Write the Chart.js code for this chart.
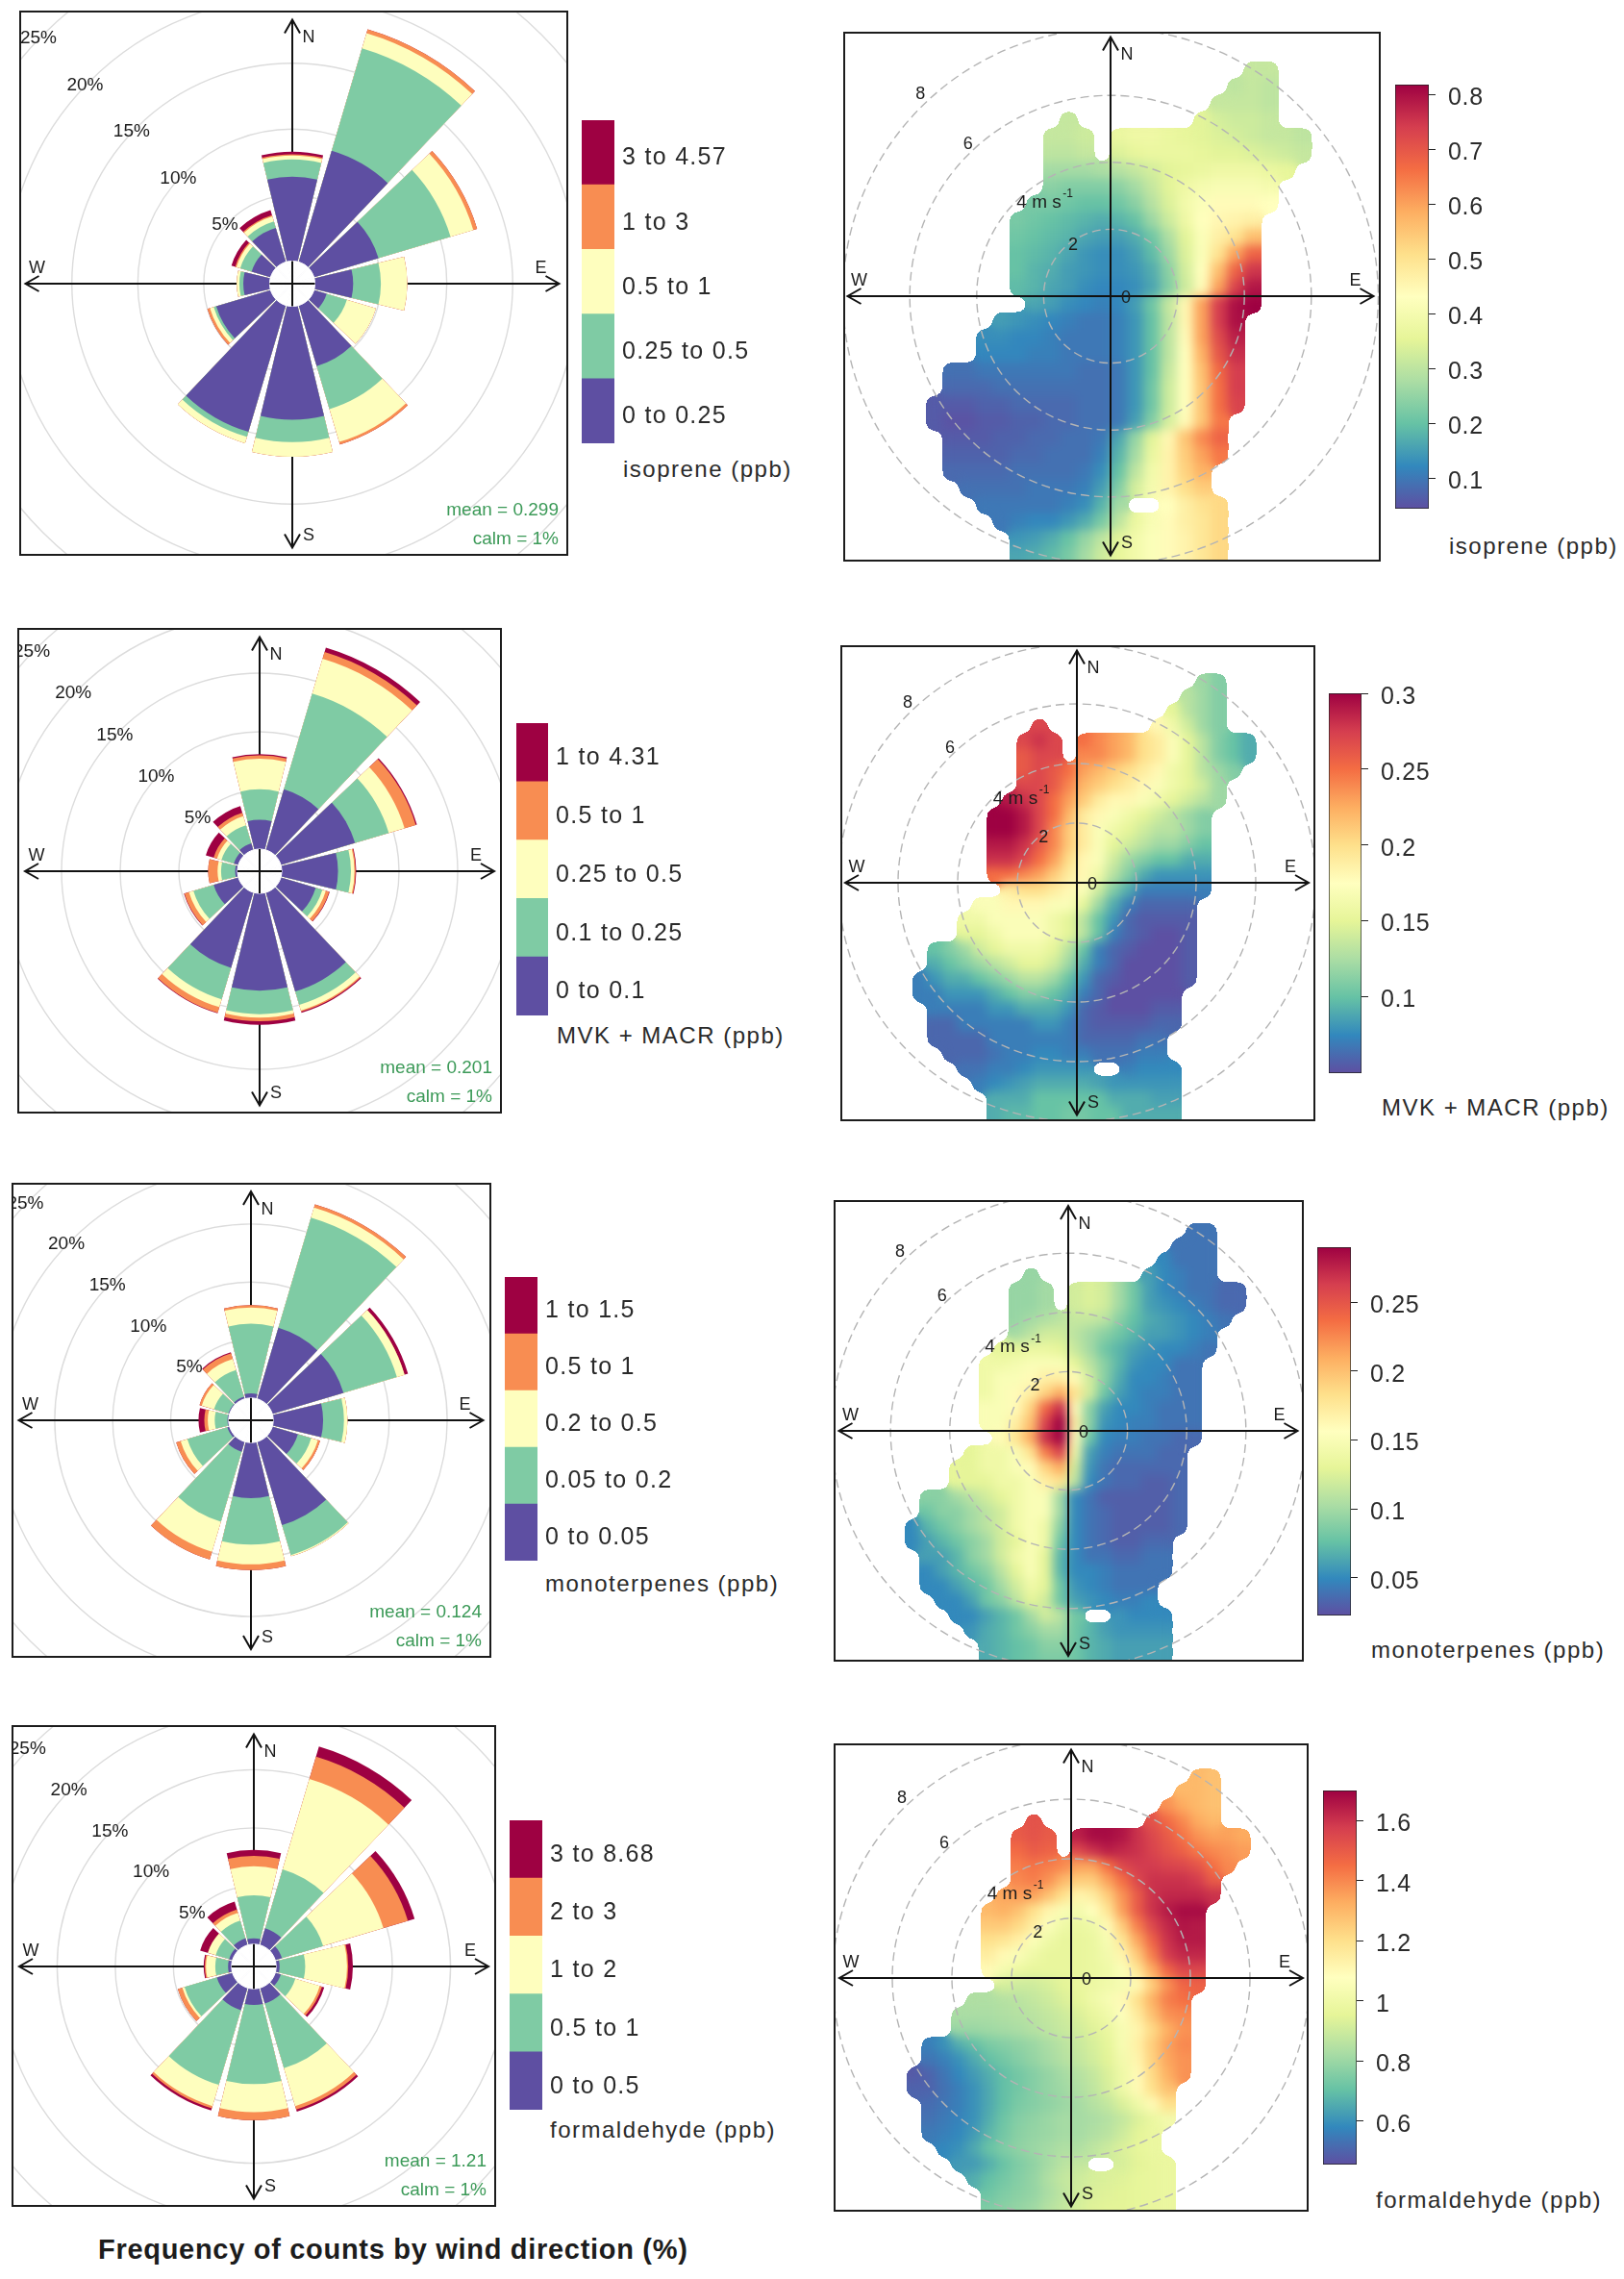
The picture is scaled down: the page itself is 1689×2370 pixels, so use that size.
<!DOCTYPE html>
<html lang="en">
<head>
<meta charset="UTF-8">
<title>Wind roses and bivariate polar plots of VOCs</title>
<script src="https://cdn.jsdelivr.net/npm/chart.js"></script>
<style>
  html, body { margin: 0; background: #fff; }
  #page { position: relative; width: 1689px; height: 2370px; overflow: hidden; }
  .frame { position: absolute; box-sizing: border-box; border: 2px solid #1c1c1c; overflow: hidden; }
  .frame canvas, .key { position: absolute; }
  .label { position: absolute; white-space: nowrap; transform: translateY(-50%); color: #2a2a2a;
           font: 24px "Liberation Sans", Arial, sans-serif; letter-spacing: 1.5px; }
  #caption { font: bold 29px "Liberation Sans", Arial, sans-serif; letter-spacing: 0.7px; color: #1c1c1c; }
</style>
</head>
<body>
<div id="page"></div>
<script>
// wind sectors, clockwise from north
const sectorLabels = ['N', '30', '60', 'E', '120', '150', 'S', '210', '240', 'W', '300', '330'];
const freqRings = [5, 10, 15, 20, 25];
const speedRings = [2, 4, 6, 8];

// frequency (%) in each concentration band, one row per sector, lowest band first
const isopreneBandNames = ['3 to 4.57', '1 to 3', '0.5 to 1', '0.25 to 0.5', '0 to 0.25'];
const isopreneRose = [
  [6.4, 1.3, 0.3, 0.1, 0.2], [8.8, 8.1, 1.2, 0.3, 0], [5.1, 5.7, 1.8, 0.3, 0], [2.9, 2.1, 2.0, 0, 0],
  [1.0, 1.6, 2.3, 0, 0], [4.8, 3.4, 2.6, 0.2, 0], [8.6, 1.7, 1.1, 0, 0], [10.0, 0.4, 0.5, 0, 0],
  [4.3, 0.2, 0.3, 0.2, 0], [2.0, 0.3, 0.2, 0, 0], [1.5, 0.9, 0.3, 0.1, 0.3], [2.7, 0.5, 0.4, 0.1, 0.4]
];
const mvkBandNames = ['1 to 4.31', '0.5 to 1', '0.25 to 0.5', '0.1 to 0.25', '0 to 0.1'];
const mvkRose = [
  [2.5, 2.6, 2.6, 0.3, 0.1], [5.4, 8.5, 3.1, 0.6, 0.4], [6.6, 3.0, 1.4, 1.0, 0.1], [4.8, 1.1, 0.3, 0.1, 0.05],
  [3.1, 0.6, 0.3, 0.3, 0.05], [8.8, 1.2, 0.5, 0.1, 0.1], [8.3, 2.0, 0.3, 0.3, 0.3], [6.7, 2.8, 0.7, 0.5, 0.05],
  [2.2, 1.8, 0.4, 0.4, 0.05], [0.2, 1.2, 0.3, 0.8, 0], [0.4, 1.1, 0.4, 0.3, 0.7], [0.6, 1.6, 0.8, 0.3, 0.6]
];
const monoBandNames = ['1 to 1.5', '0.5 to 1', '0.2 to 0.5', '0.05 to 0.2', '0 to 0.05'];
const monoRose = [
  [0.4, 6.0, 1.4, 0.2, 0], [6.4, 9.9, 0.9, 0.3, 0], [6.4, 4.8, 0.7, 0, 0.3], [4.3, 1.8, 0.3, 0, 0],
  [2.3, 1.2, 0.6, 0.2, 0], [7.5, 2.7, 0.1, 0, 0], [4.8, 4.0, 1.7, 0.5, 0], [0.9, 6.3, 2.7, 0.7, 0],
  [0.2, 3.6, 0.6, 0.4, 0], [0.1, 1.1, 0.6, 0.3, 0.5], [0.1, 1.3, 1.1, 0.2, 0], [0.2, 2.4, 1.0, 0.5, 0.1]
];
const hchoBandNames = ['3 to 8.68', '2 to 3', '1 to 2', '0.5 to 1', '0 to 0.5'];
const hchoRose = [
  [0.5, 3.7, 2.5, 0.9, 0.5], [1.5, 5.3, 8.1, 2.0, 0.9], [0.6, 3.7, 5.4, 2.2, 0.6], [0.3, 2.2, 3.6, 0.1, 0.4],
  [0.5, 1.3, 2.2, 0.2, 0.2], [1.4, 5.8, 3.4, 0.3, 0.2], [1.4, 6.8, 2.4, 0.7, 0], [2.0, 6.7, 1.9, 0.2, 0.2],
  [1.4, 2.9, 0.2, 0.4, 0], [0.3, 1.1, 0.8, 0.1, 0.1], [0.3, 1.2, 0.7, 0, 0.7], [0.6, 1.6, 0.7, 0.3, 0.7]
];

// polar plot cells: wind v component of each row and u component of the first cell in it (m/s)
const cellRowV = [6.75, 6.25, 5.75, 5.25, 4.75, 4.25, 3.75, 3.25, 2.75, 2.25, 1.75, 1.25, 0.75, 0.25, -0.25,
  -0.75, -1.25, -1.75, -2.25, -2.75, -3.25, -3.75, -4.25, -4.75, -5.25, -5.75, -6.25, -6.75, -7.25, -7.75];
const cellRowStartU = [4.25, 3.75, 3.25, -1.25, -1.75, -1.75, -1.75, -1.75, -2.25, -2.75, -2.75, -2.75, -2.75, -2.75, -2.25,
  -3.25, -3.75, -3.75, -4.75, -4.75, -5.25, -5.25, -4.75, -4.75, -4.75, -4.25, -3.75, -3.25, -2.75, -2.75];
const _ = null;

const isopreneCells = [
  [.31,.31],
  [.3,.31,.3],
  [.31,.31,.31,.3],
  [.31,_,_,_,_,_,_,_,.35,.33,.32,.32,.31],
  [.31,.31,.32,_,.37,.38,.38,.37,.36,.35,.34,.33,.32,.31,.31,.3],
  [.3,.3,.31,_,.34,.36,.37,.37,.37,.36,.35,.35,.34,.33,.32,.31],
  [.27,.27,.27,.28,.29,.31,.33,.35,.36,.37,.38,.38,.38,.37,.36],
  [.24,.23,.23,.23,.24,.27,.31,.35,.38,.4,.41,.41,.41,.4],
  [.22,.22,.21,.2,.2,.21,.24,.29,.34,.39,.42,.44,.44,.44,.43],
  [.22,.21,.2,.19,.18,.17,.18,.2,.26,.32,.38,.43,.45,.46,.47],
  [.21,.2,.19,.18,.16,.15,.15,.17,.21,.28,.35,.42,.47,.5,.56],
  [.2,.19,.18,.16,.14,.13,.13,.15,.19,.26,.34,.42,.5,.6,.68],
  [.2,.18,.17,.15,.14,.13,.13,.14,.17,.24,.33,.43,.56,.68,.75],
  [.19,.18,.16,.15,.13,.12,.12,.13,.16,.23,.32,.44,.6,.73,.79],
  [.16,.15,.13,.12,.11,.12,.15,.21,.31,.45,.6,.74,.8,.82],
  [.15,.14,.13,.12,.11,.1,.1,.11,.14,.2,.3,.45,.6,.74,.8],
  [.13,.13,.12,.12,.11,.1,.1,.1,.11,.14,.2,.3,.44,.6,.72,.78],
  [.12,.12,.12,.11,.11,.1,.1,.1,.11,.14,.2,.3,.43,.58,.7,.76],
  [.09,.09,.1,.1,.1,.1,.1,.1,.09,.09,.1,.14,.2,.31,.43,.56,.67,.74],
  [.08,.08,.08,.09,.09,.09,.09,.09,.09,.09,.1,.14,.21,.32,.43,.55,.66,.74],
  [.06,.06,.06,.07,.07,.08,.08,.08,.08,.09,.09,.1,.14,.21,.32,.43,.55,.66,.73],
  [.06,.05,.05,.06,.06,.07,.07,.08,.08,.09,.09,.1,.15,.23,.33,.44,.55,.65],
  [.06,.06,.06,.07,.07,.08,.08,.09,.09,.1,.16,.25,.35,.45,.55,.63,.68],
  [.07,.07,.07,.07,.08,.08,.09,.09,.09,.11,.18,.27,.37,.46,.54,.6,.65],
  [.08,.08,.08,.08,.09,.09,.09,.09,.1,.13,.2,.3,.39,.46,.53,.58],
  [.09,.09,.09,.09,.1,.1,.1,.11,.15,.23,.33,.4,.46,.51,.54],
  [.1,.1,.1,.1,.1,.11,.13,.18,.27,_,_,.43,.47,.5,.52],
  [.1,.11,.12,.12,.14,.17,.22,.3,.37,.41,.44,.47,.49,.52],
  [.14,.15,.17,.2,.25,.3,.35,.39,.42,.44,.46,.49,.52],
  [.16,.17,.19,.22,.27,.32,.36,.39,.42,.44,.46,.49,.52]
];
const mvkCells = [
  [.12,.11],
  [.13,.12,.11],
  [.15,.13,.12,.11],
  [.27,_,_,_,_,_,_,_,.18,.16,.14,.12,.11],
  [.27,.28,.27,_,.25,.24,.23,.22,.2,.19,.17,.15,.13,.11,.1,.09],
  [.26,.27,.27,_,.24,.24,.23,.22,.2,.19,.17,.15,.13,.11,.1,.09],
  [.26,.27,.26,.25,.23,.22,.21,.2,.19,.18,.16,.15,.13,.12,.11],
  [.27,.27,.26,.24,.22,.21,.2,.19,.18,.17,.16,.15,.14,.12],
  [.29,.28,.27,.25,.23,.21,.19,.18,.18,.17,.16,.15,.14,.13,.12],
  [.3,.3,.29,.27,.25,.22,.19,.18,.17,.16,.15,.14,.13,.12,.11],
  [.3,.3,.29,.27,.24,.21,.19,.17,.16,.15,.14,.13,.13,.12,.11],
  [.29,.29,.28,.26,.24,.21,.19,.17,.15,.14,.13,.12,.12,.11,.1],
  [.28,.28,.27,.25,.23,.2,.18,.17,.14,.12,.11,.1,.1,.09,.09],
  [.25,.25,.24,.23,.21,.19,.18,.16,.13,.11,.09,.08,.08,.08,.08],
  [.19,.2,.2,.19,.18,.17,.14,.11,.09,.07,.07,.07,.07,.07],
  [.17,.17,.18,.18,.18,.17,.17,.15,.12,.09,.07,.06,.06,.06,.06],
  [.16,.16,.17,.17,.17,.17,.16,.15,.13,.1,.08,.06,.055,.055,.055,.055],
  [.15,.15,.16,.17,.17,.17,.16,.15,.13,.1,.07,.06,.055,.05,.05,.055],
  [.1,.11,.12,.14,.15,.16,.16,.16,.15,.13,.1,.07,.06,.055,.05,.05,.05,.055],
  [.09,.1,.11,.12,.13,.14,.15,.15,.14,.12,.09,.07,.06,.05,.05,.05,.05,.055],
  [.07,.08,.09,.09,.1,.11,.12,.13,.13,.12,.1,.08,.06,.055,.05,.05,.05,.05,.055],
  [.07,.07,.08,.08,.08,.09,.1,.11,.11,.1,.09,.07,.06,.05,.05,.05,.05,.05],
  [.07,.07,.07,.07,.08,.08,.09,.09,.09,.08,.06,.055,.05,.05,.05,.055,.055],
  [.06,.06,.07,.07,.07,.07,.07,.08,.08,.07,.06,.055,.055,.055,.055,.06,.06],
  [.06,.06,.06,.06,.07,.07,.07,.07,.07,.07,.06,.06,.06,.06,.065,.065],
  [.06,.06,.06,.065,.07,.07,.075,.075,.07,.07,.065,.065,.065,.07,.07],
  [.065,.065,.07,.07,.075,.08,.08,.08,.08,_,_,.07,.075,.075,.075],
  [.07,.075,.08,.085,.09,.09,.09,.09,.085,.08,.08,.08,.08,.08],
  [.09,.09,.09,.1,.1,.1,.1,.1,.09,.09,.09,.085,.085],
  [.09,.095,.095,.1,.1,.105,.105,.1,.1,.09,.09,.09,.09]
];
const monoCells = [
  [.04,.04],
  [.04,.04,.04],
  [.05,.04,.04,.04],
  [.095,_,_,_,_,_,_,_,.06,.05,.045,.04,.04],
  [.095,.095,.1,_,.12,.125,.12,.1,.08,.06,.05,.045,.04,.04,.035,.035],
  [.095,.095,.1,_,.12,.125,.12,.1,.08,.06,.055,.05,.045,.04,.035,.035],
  [.095,.1,.105,.11,.115,.115,.11,.09,.075,.065,.06,.055,.05,.045,.04],
  [.1,.11,.12,.12,.11,.1,.09,.08,.07,.06,.06,.055,.05,.045],
  [.13,.13,.135,.135,.13,.115,.1,.08,.07,.06,.055,.05,.05,.045,.04],
  [.14,.14,.145,.15,.15,.15,.13,.11,.09,.07,.055,.05,.05,.04,.04],
  [.14,.15,.15,.16,.17,.17,.16,.12,.09,.065,.05,.05,.045,.04,.04],
  [.14,.15,.16,.17,.19,.21,.18,.12,.08,.06,.05,.045,.045,.04,.04],
  [.15,.15,.16,.19,.24,.27,.16,.09,.06,.05,.05,.045,.04,.04,.04],
  [.15,.15,.17,.2,.26,.29,.17,.09,.055,.05,.045,.045,.04,.04,.04],
  [.16,.18,.21,.27,.29,.16,.08,.05,.045,.045,.04,.04,.035,.035],
  [.13,.14,.14,.15,.18,.23,.26,.14,.06,.045,.04,.04,.04,.035,.035],
  [.13,.13,.14,.14,.15,.16,.19,.21,.12,.055,.04,.035,.035,.035,.035,.035],
  [.13,.13,.13,.14,.14,.15,.17,.18,.11,.05,.04,.035,.035,.03,.03,.035],
  [.09,.09,.1,.11,.12,.13,.14,.15,.15,.1,.05,.04,.03,.03,.03,.03,.03,.035],
  [.08,.09,.09,.1,.11,.12,.14,.15,.15,.1,.05,.04,.035,.03,.03,.03,.03,.035],
  [.05,.07,.08,.09,.1,.11,.12,.14,.15,.14,.09,.05,.04,.035,.03,.03,.03,.03,.035],
  [.05,.06,.07,.08,.09,.1,.12,.13,.15,.14,.08,.05,.04,.035,.03,.03,.035,.035],
  [.06,.06,.07,.09,.1,.12,.14,.15,.13,.07,.05,.04,.04,.035,.035,.04,.04],
  [.05,.06,.07,.08,.09,.11,.13,.15,.13,.07,.05,.05,.045,.04,.04,.04,.04],
  [.05,.05,.06,.07,.08,.1,.12,.14,.13,.08,.055,.05,.045,.04,.04,.04],
  [.05,.05,.06,.08,.09,.11,.13,.12,.08,.06,.055,.05,.045,.045,.05],
  [.05,.05,.06,.07,.08,.1,.12,.11,.08,_,_,.055,.05,.05,.05],
  [.055,.065,.07,.08,.09,.1,.1,.08,.07,.06,.055,.055,.055,.055],
  [.065,.07,.075,.08,.09,.09,.08,.07,.065,.06,.06,.06,.06],
  [.065,.07,.075,.08,.085,.085,.08,.07,.065,.06,.06,.06,.06]
];
const hchoCells = [
  [1.3,1.28],
  [1.3,1.3,1.28],
  [1.38,1.33,1.3,1.28],
  [1.52,_,_,_,_,_,_,_,1.52,1.46,1.4,1.33,1.3],
  [1.5,1.52,1.5,_,1.64,1.68,1.68,1.66,1.6,1.55,1.5,1.44,1.38,1.35,1.35,1.33],
  [1.46,1.5,1.48,_,1.55,1.6,1.64,1.62,1.6,1.56,1.52,1.48,1.43,1.4,1.38,1.36],
  [1.42,1.44,1.42,1.4,1.35,1.35,1.45,1.55,1.58,1.58,1.56,1.55,1.52,1.45,1.4],
  [1.4,1.42,1.38,1.3,1.25,1.25,1.35,1.45,1.55,1.6,1.6,1.6,1.58,1.5],
  [1.34,1.36,1.35,1.28,1.2,1.12,1.15,1.25,1.38,1.5,1.6,1.62,1.62,1.62,1.6],
  [1.3,1.32,1.28,1.2,1.12,1.05,1.02,1.08,1.18,1.36,1.5,1.6,1.65,1.68,1.68],
  [1.26,1.26,1.22,1.15,1.06,1,.98,1,1.1,1.26,1.42,1.55,1.62,1.66,1.65],
  [1.2,1.18,1.14,1.06,1,.97,.97,.98,1.04,1.18,1.34,1.48,1.6,1.65,1.65],
  [1.15,1.1,1.05,1,.97,.97,.97,.98,1.02,1.12,1.26,1.42,1.58,1.62,1.62],
  [1.1,1.03,.99,.97,.97,.97,.97,.98,1,1.06,1.18,1.33,1.47,1.55,1.55],
  [.92,.9,.9,.92,.95,.97,.99,1.01,1.03,1.1,1.25,1.38,1.47,1.48],
  [.84,.84,.85,.86,.88,.9,.93,.96,1,1.04,1.1,1.2,1.32,1.42,1.45],
  [.83,.83,.83,.84,.85,.86,.88,.9,.93,.97,1.01,1.07,1.16,1.28,1.38,1.4],
  [.8,.8,.81,.82,.83,.85,.87,.89,.91,.94,.98,1.04,1.12,1.22,1.32,1.38],
  [.56,.6,.66,.7,.74,.76,.78,.8,.83,.86,.89,.92,.96,1.04,1.14,1.25,1.35,1.4],
  [.54,.56,.6,.65,.7,.73,.76,.79,.82,.85,.88,.91,.95,1.02,1.12,1.24,1.34,1.38],
  [.48,.5,.54,.58,.62,.66,.7,.73,.76,.79,.82,.85,.88,.93,1,1.1,1.22,1.32,1.38],
  [.5,.5,.53,.56,.6,.65,.7,.73,.76,.79,.81,.84,.87,.92,1,1.1,1.2,1.28],
  [.52,.54,.56,.6,.65,.7,.74,.76,.78,.8,.82,.85,.88,.93,1,1.1,1.2],
  [.53,.55,.57,.6,.66,.72,.76,.78,.8,.82,.82,.83,.85,.88,.93,.98,1.02],
  [.55,.56,.58,.62,.68,.73,.77,.79,.8,.82,.82,.84,.86,.9,.95,.98],
  [.58,.6,.65,.71,.75,.78,.8,.82,.84,.84,.87,.9,.93,.96,.98],
  [.62,.62,.66,.71,.75,.78,.82,.86,.88,_,_,.92,.95,.97,.98],
  [.66,.7,.73,.76,.79,.84,.88,.9,.92,.93,.94,.96,.97,.98],
  [.72,.75,.77,.79,.83,.87,.91,.93,.94,.95,.96,.97,.98],
  [.75,.77,.79,.81,.85,.88,.92,.94,.95,.95,.96,.97,.98]
];

const isopreneTicks = [0.1, 0.2, 0.3, 0.4, 0.5, 0.6, 0.7, 0.8];
const mvkTicks = [0.1, 0.15, 0.2, 0.25, 0.3];
const monoTicks = [0.05, 0.1, 0.15, 0.2, 0.25];
const hchoTicks = [0.6, 0.8, 1, 1.2, 1.4, 1.6];

const bandColours = ['#5E4FA2', '#7FCBA4', '#FEFEBE', '#F88D52', '#9E0142'];
const heatColours = ['#5E4FA2', '#3288BD', '#66C2A5', '#ABDDA4', '#E6F598', '#FFFFBF', '#FEE08B', '#FDAE61', '#F46D43', '#D53E4F', '#9E0142'];
const FONT = '"Liberation Sans", Arial, sans-serif';
const INK = '#1c1c1c';
const page = document.getElementById('page');

function heatColour(t) {
  const p = Math.min(Math.max(t, 0), 1) * (heatColours.length - 1);
  const i = Math.min(Math.floor(p), heatColours.length - 2);
  const a = parseInt(heatColours[i].slice(1), 16), b = parseInt(heatColours[i + 1].slice(1), 16);
  const mix = s => Math.round(((a >> s) & 255) + (((b >> s) & 255) - ((a >> s) & 255)) * (p - i));
  return `rgb(${mix(16)},${mix(8)},${mix(0)})`;
}

function addCanvas(parent, x, y, w, h, cls) {
  const c = document.createElement('canvas');
  c.width = w; c.height = h;
  c.style.cssText = `left:${x}px;top:${y}px;width:${w}px;height:${h}px`;
  if (cls) c.className = cls;
  parent.appendChild(c);
  return c;
}
function addFrame(b) {
  const d = document.createElement('div');
  d.className = 'frame';
  d.style.cssText = `left:${b.x0}px;top:${b.y0}px;width:${b.x1 - b.x0}px;height:${b.y1 - b.y0}px`;
  page.appendChild(d);
  return d;
}
function addLabel(text, x, y, id) {
  const d = document.createElement('div');
  d.className = 'label';
  if (id) d.id = id;
  d.style.left = x + 'px'; d.style.top = y + 'px';
  d.textContent = text;
  page.appendChild(d);
}

// arrows and compass letters shared by both kinds of panel; hx, hy = arrow lengths in px
function drawCross(ctx, cx, cy, hx, hy) {
  const a = 14, w = 8;
  ctx.save();
  ctx.strokeStyle = '#111'; ctx.lineWidth = 2;
  ctx.beginPath();
  ctx.moveTo(cx - hx, cy); ctx.lineTo(cx + hx, cy);
  ctx.moveTo(cx, cy - hy); ctx.lineTo(cx, cy + hy);
  for (const [dx, dy] of [[1, 0], [-1, 0], [0, 1], [0, -1]]) {
    const tx = cx + dx * hx, ty = cy + dy * hy;
    ctx.moveTo(tx - dx * a - dy * w, ty - dy * a - dx * w);
    ctx.lineTo(tx, ty);
    ctx.lineTo(tx - dx * a + dy * w, ty - dy * a + dx * w);
  }
  ctx.stroke();
  ctx.restore();
}
function drawCompass(ctx, cx, cy, hx, hy) {
  ctx.save();
  ctx.fillStyle = INK; ctx.font = `18px ${FONT}`;
  ctx.textAlign = 'center'; ctx.textBaseline = 'middle';
  ctx.fillText('N', cx + 17, cy - hy + 19);
  ctx.fillText('S', cx + 17, cy + hy - 12);
  ctx.fillText('W', cx - hx + 12, cy - 16);
  ctx.fillText('E', cx + hx - 19, cy - 16);
  ctx.restore();
}

// soften the blocky cell layer the way the source's fine grid looks: blur colours, keep a hard outline.
// the last pixel row is smeared downwards first so the cells still reach the bottom of the frame
function smoothCells(chart, sigma) {
  const src = chart.canvas, w = src.width, h = src.height, extra = 30;
  const pad = document.createElement('canvas');
  pad.width = w; pad.height = h + extra;
  const pc = pad.getContext('2d');
  pc.drawImage(src, 0, 0);
  pc.drawImage(src, 0, h - 1, w, 1, 0, h, w, extra);
  const tmp = document.createElement('canvas');
  tmp.width = w; tmp.height = h + extra;
  const t = tmp.getContext('2d', { willReadFrequently: true });
  t.filter = `blur(${sigma}px)`;
  t.drawImage(pad, 0, 0);
  const img = t.getImageData(0, 0, w, h), d = img.data;
  for (let i = 3; i < d.length; i += 4) d[i] = d[i] >= 128 ? 255 : 0;
  chart.ctx.putImageData(img, 0, 0);
}

function drawRose(b, rows, bandNames, stats, title, key) {
  const frame = addFrame(b);
  const hole = b.hole, perPct = b.perPct, axisMax = 30;
  const radius = Math.round(hole + perPct * axisMax);
  const axisMin = -hole / perPct;
  const canvas = addCanvas(frame, b.cx - radius - b.x0 - 2, b.cy - radius - b.y0 - 2, radius * 2, radius * 2);

  // each sector is followed by a narrow empty one, which leaves the white gap between petals
  const labels = [];
  sectorLabels.forEach(s => labels.push(s, ''));
  const cumulative = bandColours.map((c, k) => {
    const d = [];
    rows.forEach(r => d.push(r.slice(0, k + 1).reduce((s, v) => s + v, 0), axisMin));
    return d;
  });
  const wedge = 27, gap = 3;
  const angle = c => (c.dataIndex % 2 ? gap : wedge);
  const datasets = [{ data: labels.map(() => 0), backgroundColor: '#fff', borderColor: '#fff', borderWidth: 1, angle }];
  cumulative.forEach((d, k) => datasets.push({ data: d, backgroundColor: bandColours[k], borderWidth: 0, angle }));

  const hx = (b.x1 - b.x0) / 2 - 8, hy = (b.y1 - b.y0) / 2 - 9;
  new Chart(canvas, {
    type: 'polarArea',
    data: { labels, datasets },
    options: {
      responsive: false, animation: false, events: [],
      layout: { padding: 0 },
      plugins: { legend: { display: false }, tooltip: { enabled: false } },
      scales: {
        r: {
          min: axisMin, max: axisMax, startAngle: -wedge / 2,
          afterBuildTicks: s => { s.ticks = freqRings.map(v => ({ value: v })); },
          ticks: { display: false },
          angleLines: { display: false },
          grid: { color: '#dcdcdc', lineWidth: 1.4, circular: true },
          pointLabels: { display: false }
        }
      }
    },
    plugins: [{
      id: 'roseAnnotations',
      beforeDatasetsDraw(chart) {
        const s = chart.scales.r;
        drawCross(chart.ctx, s.xCenter, s.yCenter, hx, hy);
      },
      afterDatasetsDraw(chart) {
        const s = chart.scales.r, ctx = chart.ctx, cx = s.xCenter, cy = s.yCenter;
        const rHole = s.getDistanceFromCenterForValue(0);
        ctx.save();
        ctx.strokeStyle = '#111'; ctx.lineWidth = 2;
        ctx.beginPath();
        ctx.moveTo(cx - rHole, cy); ctx.lineTo(cx + rHole, cy);
        ctx.moveTo(cx, cy - rHole); ctx.lineTo(cx, cy + rHole);
        ctx.stroke();
        ctx.fillStyle = INK; ctx.font = `19px ${FONT}`;
        ctx.textAlign = 'center'; ctx.textBaseline = 'middle';
        freqRings.forEach(v => {
          const d = s.getDistanceFromCenterForValue(v) * Math.SQRT1_2;
          ctx.fillText(v + '%', cx - d - 5, cy - d + 4);
        });
        ctx.fillStyle = '#3C9A58'; ctx.textAlign = 'right';
        const rx = cx + (b.x1 - 10 - b.cx);
        ctx.fillText(stats[0], rx, cy + (b.y1 - 47 - b.cy));
        ctx.fillText(stats[1], rx, cy + (b.y1 - 17 - b.cy));
        ctx.restore();
        drawCompass(ctx, cx, cy, hx, hy);
      }
    }]
  });

  // band key: five stacked blocks with their labels
  const kw = key.x1 - key.x0, kh = key.y1 - key.y0, cw = kw + 220;
  const keyCanvas = addCanvas(page, key.x0, key.y0, cw, kh, 'key');
  new Chart(keyCanvas, {
    type: 'bar',
    data: {
      labels: bandNames,
      datasets: [{ data: bandNames.map(() => 1), backgroundColor: bandColours.slice().reverse(), barPercentage: 1, categoryPercentage: 1 }]
    },
    options: {
      indexAxis: 'y', responsive: false, animation: false, events: [],
      layout: { padding: 0 },
      plugins: { legend: { display: false }, tooltip: { enabled: false } },
      scales: {
        x: { display: false, min: 0, max: 1 },
        y: {
          position: 'right',
          afterFit: a => { a.width = cw - kw; a.paddingTop = 0; a.paddingBottom = 0; },
          grid: { display: false, drawTicks: false }, border: { display: false },
          ticks: { color: '#2a2a2a', padding: 8, labelOffset: 6, autoSkip: false, font: { family: FONT, size: 25 } }
        }
      }
    },
    plugins: [{ id: 'keySpacing', beforeDraw(chart) { chart.ctx.letterSpacing = '1.3px'; } }]
  });
  addLabel(title, key.titleX, key.titleY);
}

function drawPolar(b, cells, ticks, range, title, key) {
  const frame = addFrame(b);
  const w = b.x1 - b.x0 - 4, h = b.y1 - b.y0 - 4;
  const canvas = addCanvas(frame, 0, 0, w, h);
  const pts = [];
  cells.forEach((row, r) => row.forEach((v, i) => {
    if (v !== null) pts.push({ x: cellRowStartU[r] + i * 0.5, y: cellRowV[r], v });
  }));
  const left = b.x0 + 2 - b.cx, top = b.y0 + 2 - b.cy;
  const side = (b.pps * 0.25 + 0.7) * Math.SQRT2;
  const hx = (b.x1 - b.x0) / 2 - 6, hy = (b.y1 - b.y0) / 2 - 6;
  new Chart(canvas, {
    type: 'scatter',
    data: {
      datasets: [{
        data: pts, pointStyle: 'rect', pointRadius: side, pointBorderWidth: 0, pointHoverRadius: side,
        pointBackgroundColor: c => (c.raw ? heatColour((c.raw.v - range[0]) / (range[1] - range[0])) : '#000')
      }]
    },
    options: {
      responsive: false, animation: false, events: [],
      // without this the chart area shrinks by the point radius and the rings lose their scale
      layout: { padding: 0, autoPadding: false },
      plugins: { legend: { display: false }, tooltip: { enabled: false } },
      scales: {
        x: { type: 'linear', display: false, min: left / b.pps, max: (left + w) / b.pps },
        y: { type: 'linear', display: false, min: -(top + h) / b.pps, max: -top / b.pps }
      }
    },
    plugins: [{
      id: 'polarAnnotations',
      afterDatasetsDraw(chart) {
        smoothCells(chart, 5.5);
        const ctx = chart.ctx, xs = chart.scales.x, ys = chart.scales.y;
        const cx = xs.getPixelForValue(0), cy = ys.getPixelForValue(0);
        ctx.save();
        ctx.strokeStyle = '#b4b4b4'; ctx.lineWidth = 1.4; ctx.setLineDash([9, 5]);
        speedRings.forEach(v => {
          ctx.beginPath();
          ctx.arc(cx, cy, xs.getPixelForValue(v) - cx, 0, Math.PI * 2);
          ctx.stroke();
        });
        ctx.setLineDash([]);
        drawCross(ctx, cx, cy, hx, hy);
        ctx.fillStyle = INK; ctx.font = `18px ${FONT}`;
        ctx.textAlign = 'center'; ctx.textBaseline = 'middle';
        speedRings.filter(v => v !== 4).forEach(v => {
          const r = xs.getPixelForValue(v) - cx;
          ctx.fillText(String(v), cx - r * (v === 2 ? 0.56 : 0.71), cy - r * 0.755);
        });
        ctx.fillText('0', cx + 16, cy + 2);
        const d4 = (xs.getPixelForValue(4) - cx) * 0.68;
        ctx.textAlign = 'left';
        ctx.font = `19px ${FONT}`;
        ctx.fillText('4 m s', cx - d4 - 3, cy - d4 - 3);
        ctx.font = `12px ${FONT}`;
        ctx.fillText('-1', cx - d4 + 45, cy - d4 - 12);
        ctx.restore();
        drawCompass(ctx, cx, cy, hx, hy);
      }
    }]
  });

  // colour key, one floating bar with the palette as its fill
  const pad = 16, kw = key.x1 - key.x0, kh = key.y1 - key.y0, cw = kw + 130;
  const keyCanvas = addCanvas(page, key.x0, key.y0 - pad, cw, kh + pad * 2, 'key');
  new Chart(keyCanvas, {
    type: 'bar',
    data: {
      labels: [''],
      datasets: [{
        data: [range], barPercentage: 1, categoryPercentage: 1, borderColor: '#222', borderWidth: 1, borderSkipped: false,
        backgroundColor: c => {
          const area = c.chart.chartArea;
          if (!area) return '#888';
          const g = c.chart.ctx.createLinearGradient(0, area.bottom, 0, area.top);
          heatColours.forEach((col, i) => g.addColorStop(i / (heatColours.length - 1), col));
          return g;
        }
      }]
    },
    options: {
      responsive: false, animation: false, events: [],
      layout: { padding: { top: pad, bottom: pad } },
      plugins: { legend: { display: false }, tooltip: { enabled: false } },
      scales: {
        x: { display: false },
        y: {
          position: 'right', min: range[0], max: range[1],
          afterFit: a => { a.width = cw - kw; a.paddingTop = 0; a.paddingBottom = 0; },
          afterBuildTicks: s => { s.ticks = ticks.map(v => ({ value: v })); },
          grid: { drawOnChartArea: false, color: '#222', tickLength: 7 }, border: { display: false },
          ticks: { color: '#2a2a2a', padding: 13, labelOffset: 4, font: { family: FONT, size: 25 }, callback: v => String(v) }
        }
      }
    },
    plugins: [{ id: 'keySpacing', beforeDraw(chart) { chart.ctx.letterSpacing = '0.7px'; } }]
  });
  addLabel(title, key.titleX, key.titleY);
}

drawRose({ x0: 20, x1: 591, y0: 11, y1: 578, cx: 304, cy: 295, hole: 23.5, perPct: 13.7 }, isopreneRose, isopreneBandNames,
  ['mean = 0.299', 'calm = 1%'], 'isoprene (ppb)', { x0: 605, x1: 639, y0: 125, y1: 461, titleX: 648, titleY: 488 });
drawPolar({ x0: 877, x1: 1436, y0: 33, y1: 584, cx: 1155, cy: 308, pps: 34.8 }, isopreneCells, isopreneTicks, [0.044, 0.818],
  'isoprene (ppb)', { x0: 1451, x1: 1486, y0: 88, y1: 529, titleX: 1507, titleY: 568 });

drawRose({ x0: 18, x1: 522, y0: 653, y1: 1158, cx: 270, cy: 906, hole: 23, perPct: 12.2 }, mvkRose, mvkBandNames,
  ['mean = 0.201', 'calm = 1%'], 'MVK + MACR (ppb)', { x0: 537, x1: 570, y0: 752, y1: 1056, titleX: 579, titleY: 1077 });
drawPolar({ x0: 874, x1: 1368, y0: 671, y1: 1166, cx: 1120, cy: 918, pps: 31 }, mvkCells, mvkTicks, [0.0494, 0.3],
  'MVK + MACR (ppb)', { x0: 1382, x1: 1416, y0: 721, y1: 1116, titleX: 1437, titleY: 1152 });

drawRose({ x0: 12, x1: 511, y0: 1230, y1: 1724, cx: 261, cy: 1477, hole: 23.2, perPct: 12.06 }, monoRose, monoBandNames,
  ['mean = 0.124', 'calm = 1%'], 'monoterpenes (ppb)', { x0: 525, x1: 559, y0: 1328, y1: 1623, titleX: 567, titleY: 1647 });
drawPolar({ x0: 867, x1: 1356, y0: 1248, y1: 1728, cx: 1111, cy: 1488, pps: 30.8 }, monoCells, monoTicks, [0.0226, 0.29],
  'monoterpenes (ppb)', { x0: 1370, x1: 1405, y0: 1297, y1: 1680, titleX: 1426, titleY: 1716 });

drawRose({ x0: 12, x1: 516, y0: 1794, y1: 2295, cx: 264, cy: 2045, hole: 23.2, perPct: 12.1 }, hchoRose, hchoBandNames,
  ['mean = 1.21', 'calm = 1%'], 'formaldehyde (ppb)', { x0: 530, x1: 564, y0: 1893, y1: 2194, titleX: 572, titleY: 2215 });
drawPolar({ x0: 867, x1: 1361, y0: 1813, y1: 2300, cx: 1114, cy: 2057, pps: 31 }, hchoCells, hchoTicks, [0.456, 1.7],
  'formaldehyde (ppb)', { x0: 1376, x1: 1411, y0: 1862, y1: 2251, titleX: 1431, titleY: 2288 });

addLabel('Frequency of counts by wind direction (%)', 102, 2339, 'caption');
</script>
</body>
</html>
